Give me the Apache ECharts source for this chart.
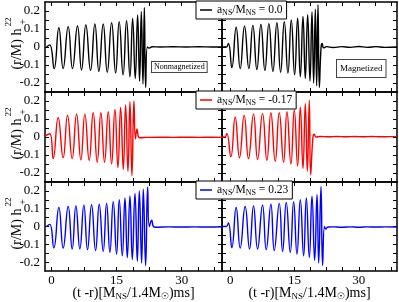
<!DOCTYPE html>
<html><head><meta charset="utf-8">
<script src="https://cdn.jsdelivr.net/npm/echarts@6/dist/echarts.min.js"></script>
<style>html,body{margin:0;padding:0;background:#fff}#c{width:399px;height:302px}</style>
</head><body><div id="c"></div>
<script>
// ---- data ----
const xTickLabels = [0, 15, 30];
const xTicks = [0, 3.75, 7.5, 11.25, 15, 18.75, 22.5, 26.25, 30, 33.75, 37.5];
const yTickLabels = [-0.2, -0.1, 0, 0.1, 0.2];
const yTicks = [-0.2, -0.15, -0.1, -0.05, 0, 0.05, 0.1, 0.15, 0.2];

const legendNames = ['0.0', '-0.17', '0.23'];
const panelTexts = ['Nonmagnetized', 'Magnetized'];

// a_NS/M_NS = 0.0, nonmagnetized
const t00N = [-1.15, -0.4, 0.6, 1.69, 2.68, 3.84, 4.84, 5.99, 6.92, 7.92, 9.0, 10.0, 10.92, 11.92, 12.85, 13.86, 14.78, 15.6, 16.5, 17.3, 18.08, 18.7, 19.3, 19.85, 20.3, 20.7, 21.08, 21.4, 21.7, 22.1, 22.5, 23.2, 25, 28, 31, 34, 37, 39.2];
const h00N = [0.0, 0.012, -0.12, 0.107, -0.12, 0.113, -0.12, 0.117, -0.128, 0.122, -0.13, 0.128, -0.135, 0.128, -0.14, 0.135, -0.145, 0.141, -0.155, 0.146, -0.165, 0.159, -0.175, 0.178, -0.19, 0.196, -0.205, 0.22, -0.225, 0.0, -0.006, 0.001, 0.0, 0.001, 0.0, 0.001, 0.0, 0.0];
// a_NS/M_NS = 0.0, magnetized
const t00M = [-1.9, -0.9, -0.4, 0.39, 1.40, 2.34, 3.35, 4.36, 5.30, 6.23, 7.17, 8.10, 9.03, 9.97, 10.9, 11.76, 12.62, 13.47, 14.25, 15.03, 15.73, 16.36, 16.98, 17.52, 18.07, 18.61, 19.08, 19.47, 19.86, 20.17, 20.48, 20.79, 21.2, 21.45, 21.8, 22.5, 24, 26, 28, 30, 32, 34, 36, 38.9];
const h00M = [0.0, 0.0, 0.02, -0.115, 0.11, -0.12, 0.115, -0.12, 0.12, -0.125, 0.125, -0.13, 0.13, -0.135, 0.135, -0.14, 0.14, -0.145, 0.15, -0.155, 0.16, -0.165, 0.17, -0.175, 0.18, -0.19, 0.195, -0.2, 0.21, -0.215, 0.235, -0.225, 0.0, 0.02, -0.004, 0.002, -0.003, 0.002, -0.002, 0.003, -0.002, 0.002, -0.002, 0.0];
// a_NS/M_NS = -0.17, nonmagnetized
const tm17N = [-1.5, -0.4, 0.38, 1.53, 2.69, 3.69, 4.77, 5.77, 6.77, 7.69, 8.69, 9.61, 10.54, 11.38, 12.23, 13.08, 13.85, 14.62, 15.31, 15.93, 16.55, 17.08, 17.62, 18.08, 18.54, 19.0, 19.35, 19.7, 20.05, 20.4, 22, 25, 28, 31, 34, 37, 39.3];
const hm17N = [0.005, 0.018, -0.12, 0.107, -0.115, 0.12, -0.12, 0.127, -0.127, 0.127, -0.13, 0.135, -0.14, 0.135, -0.14, 0.14, -0.15, 0.153, -0.17, 0.164, -0.18, 0.178, -0.19, 0.196, -0.215, 0.2, -0.01, 0.045, 0.0, -0.004, -0.002, -0.001, -0.002, -0.001, -0.002, -0.001, -0.002];
// a_NS/M_NS = -0.17, magnetized
const tm17M = [-1.9, -1.2, -0.78, 0.16, 1.17, 2.18, 3.27, 4.28, 5.45, 6.39, 7.55, 8.57, 9.5, 10.51, 11.45, 12.46, 13.24, 14.17, 14.95, 15.73, 16.36, 16.98, 17.52, 17.99, 18.46, 18.77, 19.31, 19.63, 20.0, 21, 23, 25, 27, 29, 31, 33, 35, 37, 38.9];
const hm17M = [0.0, 0.0, 0.02, -0.11, 0.11, -0.115, 0.12, -0.12, 0.127, -0.125, 0.13, -0.13, 0.135, -0.135, 0.135, -0.14, 0.14, -0.15, 0.15, -0.16, 0.165, -0.175, 0.185, -0.19, 0.205, -0.21, 0.0, 0.015, 0.0, 0.003, 0.001, 0.003, 0.001, 0.003, 0.001, 0.003, 0.001, 0.002, 0.002];
// a_NS/M_NS = 0.23, nonmagnetized
const t23N = [-1.16, -0.39, 0.53, 1.69, 2.69, 3.84, 4.77, 5.62, 6.54, 7.46, 8.3, 9.23, 10.16, 11.0, 11.92, 12.7, 13.46, 14.23, 15.0, 15.62, 16.32, 16.93, 17.47, 18.08, 18.62, 19.24, 19.78, 20.24, 20.78, 21.16, 21.7, 22.16, 22.55, 23.1, 23.48, 24, 27, 30, 33, 36, 39.3];
const h23N = [0.0, 0.012, -0.121, 0.107, -0.121, 0.112, -0.126, 0.116, -0.126, 0.12, -0.13, 0.122, -0.135, 0.125, -0.14, 0.13, -0.145, 0.14, -0.155, 0.15, -0.165, 0.16, -0.175, 0.172, -0.185, 0.185, -0.195, 0.2, -0.205, 0.21, -0.22, 0.222, 0.0, 0.035, 0.0, -0.004, -0.002, -0.003, -0.002, -0.003, -0.002];
// a_NS/M_NS = 0.23, magnetized
const t23M = [-1.9, -0.9, -0.4, 0.39, 1.4, 2.34, 3.5, 4.52, 5.45, 6.39, 7.55, 8.41, 9.5, 10.28, 11.45, 12.23, 13.08, 14.02, 14.8, 15.58, 16.36, 17.13, 17.76, 18.46, 19.08, 19.7, 20.25, 20.64, 21.18, 21.55, 22.0, 22.3, 22.8, 24, 26, 28, 30, 32, 34, 36, 38.9];
const h23M = [0.0, 0.0, 0.02, -0.118, 0.107, -0.121, 0.112, -0.126, 0.116, -0.126, 0.12, -0.13, 0.125, -0.135, 0.13, -0.14, 0.135, -0.145, 0.14, -0.155, 0.15, -0.165, 0.16, -0.175, 0.17, -0.19, 0.18, -0.205, 0.225, -0.22, 0.0, -0.015, -0.003, -0.002, -0.004, -0.002, -0.004, -0.002, -0.003, -0.002, -0.003];

// ---- layout / style ----
const FONT = "'Liberation Serif','Times New Roman',serif";
const colLeft = [45, 222], colW = [177, 175];
const rowTop = [2, 92, 182], rowH = [90, 90, 89];
const xMin = [-1.5, -1.9], xMax = [39.3, 38.9];
const colors = ['#000000', '#ff0000', '#0000ff'];
const seriesT = [[t00N, t00M], [tm17N, tm17M], [t23N, t23M]];
const seriesH = [[h00N, h00M], [hm17N, hm17M], [h23N, h23M]];

function zip(a, b) { const n = Math.min(a.length, b.length); const o = []; for (let i = 0; i < n; i++) o.push([a[i], b[i]]); return o; }

const grid = [], xAxis = [], yAxis = [], series = [], legend = [], graphic = [];
const axLine = { show: true, onZero: false, lineStyle: { color: '#000', width: 1.5 } };
const tickStyle = { color: '#000', width: 1 };
const labelFont = { fontFamily: FONT, fontSize: 13, color: '#000' };
const subRich = { s: { fontFamily: FONT, fontSize: 9, lineHeight: 8, verticalAlign: 'bottom', color: '#000' },
                  o: { fontFamily: "'DejaVu Sans',sans-serif", fontSize: 9, lineHeight: 9, verticalAlign: 'bottom', color: '#000' } };
const legRich = { s: { fontFamily: FONT, fontSize: 8, lineHeight: 7, verticalAlign: 'bottom', color: '#000' } };

for (let r = 0; r < 3; r++) {
  for (let c = 0; c < 2; c++) {
    const g = r * 2 + c;
    grid.push({ left: colLeft[c], top: rowTop[r], width: colW[c], height: rowH[r], show: false });
    const bottomRow = r === 2;
    xAxis.push({
      gridIndex: g, type: 'value', position: 'bottom', min: xMin[c], max: xMax[c],
      axisLine: axLine, splitLine: { show: false },
      axisTick: { show: true, inside: true, length: 4, customValues: xTicks, lineStyle: tickStyle },
      axisLabel: Object.assign({ show: bottomRow, customValues: xTickLabels, margin: 3 }, labelFont),
      name: bottomRow ? '(t -r)[M{s|NS}/1.4M{o|☉})ms]' : '',
      nameLocation: 'middle', nameGap: 14, nameMoveOverlap: false,
      nameTextStyle: { fontFamily: FONT, fontSize: 14, color: '#000', lineHeight: 16, rich: subRich }
    });
    xAxis.push({
      gridIndex: g, type: 'value', position: 'top', min: xMin[c], max: xMax[c],
      axisLine: axLine, splitLine: { show: false },
      axisTick: { show: true, inside: true, length: 4, customValues: xTicks, lineStyle: tickStyle },
      axisLabel: { show: false }
    });
    yAxis.push({
      gridIndex: g, type: 'value', position: 'left', min: -0.25, max: 0.25,
      axisLine: axLine, splitLine: { show: false },
      axisTick: { show: true, inside: true, length: 4, customValues: yTicks, lineStyle: tickStyle },
      axisLabel: Object.assign({ show: c === 0, customValues: yTickLabels, margin: 5,
        formatter: v => (Math.abs(v) < 1e-9 ? '0' : v.toFixed(1)) }, labelFont)
    });
    yAxis.push({
      gridIndex: g, type: 'value', position: 'right', min: -0.25, max: 0.25,
      axisLine: axLine, splitLine: { show: false },
      axisTick: { show: true, inside: true, length: 4, customValues: yTicks, lineStyle: tickStyle },
      axisLabel: { show: false }
    });
    series.push({
      type: 'line', name: 'a' + r, xAxisIndex: 2 * g, yAxisIndex: 2 * g,
      data: zip(seriesT[r][c], seriesH[r][c]), smooth: 0.5, symbol: 'none', clip: true,
      lineStyle: { color: colors[r], width: 1.4 }, itemStyle: { color: colors[r] }
    });
  }
  legend.push({
    show: true, left: 196, top: rowTop[r] - 1, data: ['a' + r], selectedMode: false,
    icon: 'rect', itemWidth: 12, itemHeight: 1.5, itemGap: 4,
    backgroundColor: '#fff', borderColor: '#000', borderWidth: 1, borderRadius: 0,
    padding: [2, 4, 2, 4],
    formatter: () => 'a{s|NS}/M{s|NS} = ' + legendNames[r],
    textStyle: { fontFamily: FONT, fontSize: 11.5, color: '#000', lineHeight: 14, rich: legRich }
  });
  const off = rowTop[r] - 2;
  graphic.push({ type: 'text', x: 17, y: 49 + off, rotation: Math.PI / 2,
    style: { text: '(r/M) h', fontFamily: FONT, fontSize: 14, fill: '#000', align: 'center', verticalAlign: 'middle' } });
  graphic.push({ type: 'text', x: 9, y: 22 + off, rotation: Math.PI / 2,
    style: { text: '22', fontFamily: FONT, fontSize: 9, fill: '#000', align: 'center', verticalAlign: 'middle' } });
  graphic.push({ type: 'text', x: 23, y: 22 + off, rotation: Math.PI / 2,
    style: { text: '+', fontFamily: FONT, fontSize: 10, fill: '#000', align: 'center', verticalAlign: 'middle' } });
}
graphic.push({ type: 'text', x: 152, y: 62, z: 10,
  style: { text: panelTexts[0], fontFamily: FONT, fontSize: 8, fill: '#000', backgroundColor: '#fff',
    borderColor: '#444', borderWidth: 1, padding: [1, 2, 1, 2] } });
graphic.push({ type: 'text', x: 337, y: 60, z: 10,
  style: { text: panelTexts[1], fontFamily: FONT, fontSize: 9, fill: '#000', backgroundColor: '#fff',
    borderColor: '#444', borderWidth: 1, padding: [4, 3, 4, 3] } });

const chart = echarts.init(document.getElementById('c'), null, { renderer: 'canvas' });
chart.setOption({ animation: false, backgroundColor: '#fff', grid, xAxis, yAxis, series, legend, graphic });
</script></body></html>
